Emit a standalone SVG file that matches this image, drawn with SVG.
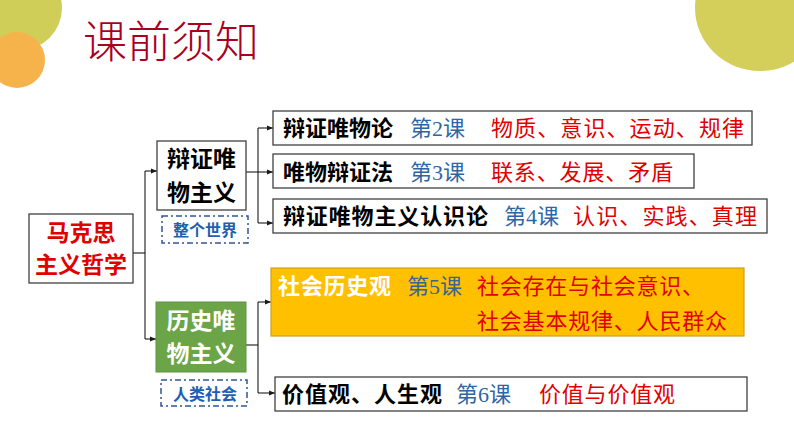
<svg xmlns="http://www.w3.org/2000/svg" width="794" height="447" viewBox="0 0 794 447">
<defs>
<marker id="ah" viewBox="0 0 10 10" refX="10" refY="5" markerWidth="6" markerHeight="6" markerUnits="userSpaceOnUse" orient="auto">
<path d="M0,1 L10,5 L0,9 z" fill="#1a1a1a"/>
</marker>
<style>
.box{fill:#fff;stroke:#404040;stroke-width:1.3}
.dash{fill:#fff;stroke:#2F5597;stroke-width:1.5;stroke-dasharray:6,3,2,3}
.ln{fill:none;stroke:#1a1a1a;stroke-width:1.1}
.b{font-family:"Noto Sans CJK SC","Liberation Sans",sans-serif;font-weight:bold;font-size:22px}
.big{font-size:23px}
.tag{font-size:16px;fill:#1F5FAF}
.s{font-family:"Liberation Serif","Noto Sans CJK SC",serif;font-size:22px}
.blk{fill:#000}
.red{fill:#E00000}
.blu{fill:#2E66A3}
</style>
</defs>
<rect width="794" height="447" fill="#fff"/>
<circle cx="20" cy="8" r="42" fill="#CFCE58"/>
<circle cx="17" cy="60" r="28" fill="#F6B34C"/>
<ellipse cx="760" cy="8" rx="65" ry="63" fill="#D3CF5A"/>
<text x="83" y="58" font-family="Noto Sans CJK SC, sans-serif" font-size="44" font-weight="300" fill="#A8001F">课前须知</text>

<g id="connectors">
<path class="ln" d="M133,253 H145"/>
<path class="ln" d="M145,171 V339"/>
<path class="ln" d="M145,171 H157" marker-end="url(#ah)"/>
<path class="ln" d="M145,339 H156" marker-end="url(#ah)"/>
<path class="ln" d="M246,172 H258"/>
<path class="ln" d="M258,128 V223"/>
<path class="ln" d="M258,128 H273" marker-end="url(#ah)"/>
<path class="ln" d="M258,172 H273" marker-end="url(#ah)"/>
<path class="ln" d="M258,223 H273" marker-end="url(#ah)"/>
<path class="ln" d="M246,345 H258"/>
<path class="ln" d="M258,302 V393"/>
<path class="ln" d="M258,302 H271" marker-end="url(#ah)"/>
<path class="ln" d="M258,393 H275" marker-end="url(#ah)"/>
</g>

<g id="root">
<rect class="box" x="29" y="214" width="104" height="69"/>
<text class="b big red" x="81" y="241" text-anchor="middle">马克思</text>
<text class="b big red" x="81" y="273" text-anchor="middle">主义哲学</text>
</g>

<g id="dialectical">
<rect class="box" x="157" y="141" width="89" height="69"/>
<text class="b big blk" x="201.5" y="167" text-anchor="middle">辩证唯</text>
<text class="b big blk" x="201.5" y="201" text-anchor="middle">物主义</text>
</g>

<g id="tag-world">
<rect class="dash" x="162" y="216" width="86" height="27"/>
<text class="b tag" x="205" y="236" text-anchor="middle">整个世界</text>
</g>

<g id="historical">
<rect x="156" y="302" width="90" height="70" fill="#6BA547" stroke="#5E9440" stroke-width="1"/>
<text class="b big" x="201" y="329" text-anchor="middle" fill="#fff">历史唯</text>
<text class="b big" x="201" y="362" text-anchor="middle" fill="#fff">物主义</text>
</g>

<g id="tag-society">
<rect class="dash" x="161" y="380" width="86" height="26"/>
<text class="b tag" x="205" y="400" text-anchor="middle">人类社会</text>
</g>

<g id="lesson2">
<rect class="box" x="273" y="111" width="479" height="34"/>
<text class="b blk" x="283" y="136">辩证唯物论</text>
<text class="s blu" x="410" y="136">第2课</text>
<text class="s red" x="491" y="136" textLength="253">物质、意识、运动、规律</text>
</g>

<g id="lesson3">
<rect class="box" x="273" y="154" width="421" height="34"/>
<text class="b blk" x="283" y="180">唯物辩证法</text>
<text class="s blu" x="410" y="180">第3课</text>
<text class="s red" x="491" y="180" textLength="182">联系、发展、矛盾</text>
</g>

<g id="lesson4">
<rect class="box" x="273" y="199" width="494" height="34"/>
<text class="b blk" x="283" y="224" textLength="205">辩证唯物主义认识论</text>
<text class="s blu" x="504" y="224">第4课</text>
<text class="s red" x="573" y="224" textLength="184">认识、实践、真理</text>
</g>

<g id="lesson5">
<rect x="271" y="268" width="473" height="68" fill="#FFC000" stroke="#C9A227" stroke-width="1.2"/>
<text class="b" x="278" y="294" fill="#fff" textLength="113">社会历史观</text>
<text class="s" x="407" y="294" fill="#3A6590">第5课</text>
<text class="s red" x="477" y="294" textLength="227">社会存在与社会意识、</text>
<text class="s red" x="477" y="329" textLength="250">社会基本规律、人民群众</text>
</g>

<g id="lesson6">
<rect class="box" x="275" y="377" width="472" height="34"/>
<text class="b blk" x="282" y="402" textLength="160">价值观、人生观</text>
<text class="s blu" x="456" y="402">第6课</text>
<text class="s red" x="539" y="402" textLength="136">价值与价值观</text>
</g>
</svg>
